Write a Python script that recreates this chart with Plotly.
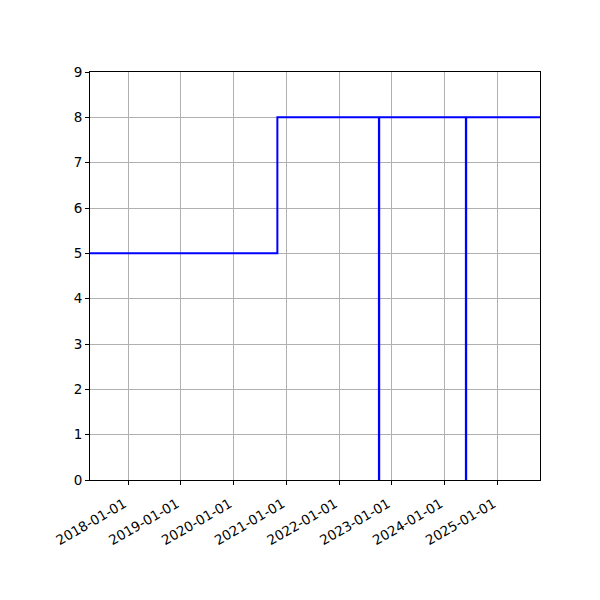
import plotly.graph_objects as go

dates = ["2017-04-12", "2020-10-30", "2022-10-03", "2022-10-05",
         "2024-05-27", "2024-05-29", "2025-10-22"]
values = [5, 8, 0, 8, 0, 8, 8]
tick_dates = ["2018-01-01", "2019-01-01", "2020-01-01", "2021-01-01",
              "2022-01-01", "2023-01-01", "2024-01-01", "2025-01-01"]

fig = go.Figure(go.Scatter(x=dates, y=values, mode="lines", line_shape="hv",
                           line=dict(color="#0000ff", width=2)))

axis_common = dict(showline=True, linecolor="black", linewidth=1, mirror=True,
                   ticks="outside", ticklen=4, tickcolor="black",
                   showgrid=True, gridcolor="#b0b0b0", gridwidth=1,
                   zeroline=False, tickfont=dict(family="DejaVu Sans", size=13.5, color="black"))

fig.update_layout(
    width=600, height=600,
    margin=dict(l=82, r=68, t=64, b=128),
    plot_bgcolor="white", paper_bgcolor="white",
    showlegend=False,
    xaxis=dict(range=["2017-04-12", "2025-10-22"], tickvals=tick_dates,
               ticktext=tick_dates, tickangle=-30, ticklabelshift=-4,
               ticklabelstandoff=6, **axis_common),
    yaxis=dict(range=[0, 9], tickvals=list(range(10)), **axis_common),
)

fig.write_html("out.html")
